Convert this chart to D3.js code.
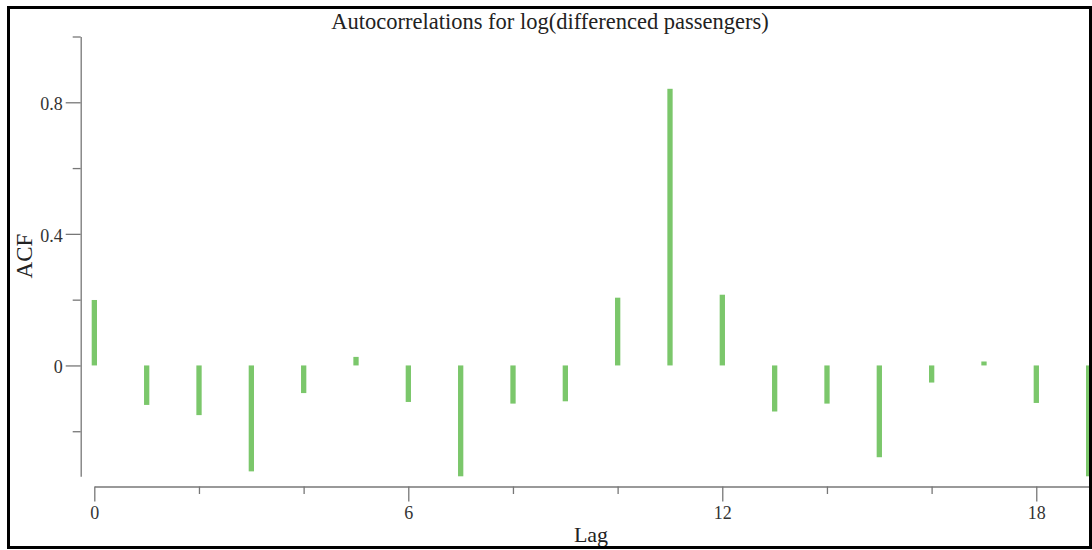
<!DOCTYPE html>
<html>
<head>
<meta charset="utf-8">
<script src="https://cdn.jsdelivr.net/npm/d3@7"></script>
<style>
    body { margin: 0; background: #fff; }
    svg { display: block; font-family: "Liberation Serif", "Times New Roman", serif; }
    .axis path, .axis line { stroke: #777; stroke-width: 1.3; }
    .axis text { fill: #333; font-size: 18px; font-family: "Liberation Serif", serif; }
</style>
</head>
<body>
<div id="chart"></div>
<script>
const lags = [0, 1, 2, 3, 4, 5, 6, 7, 8, 9, 10, 11, 12, 13, 14, 15, 16, 17, 18, 19];
const acf = [0.199, -0.120, -0.151, -0.322, -0.084, 0.026, -0.111, -0.337, -0.116, -0.109,
             0.206, 0.841, 0.215, -0.140, -0.116, -0.279, -0.052, 0.012, -0.114, -0.337];
const xTicks = [0, 2, 4, 6, 8, 10, 12, 14, 16, 18];
const xLabels = [0, 6, 12, 18];
const yTicks = [-0.2, 0, 0.2, 0.4, 0.6, 0.8, 1.0];
const yLabels = [0, 0.4, 0.8];

const width = 1092, height = 550;

const svg = d3.select('#chart')
    .append('svg')
    .attr('width', width)
    .attr('height', height);

svg.append('rect')
    .attr('width', width)
    .attr('height', height)
    .attr('fill', '#fff');

const x = d3.scaleLinear()
    .domain([0, 19])
    .range([94.3, 1088.6]);

const y = d3.scaleLinear()
    .domain([d3.min(acf), 1])
    .range([476.3, 36.5]);

// y axis, offset to the left of the bars
const yAxis = svg.append('g')
    .attr('class', 'axis')
    .attr('transform', 'translate(80.7, 0)')
    .call(d3.axisLeft(y)
        .tickValues(yTicks)
        .tickSizeOuter(0)
        .tickFormat(d => yLabels.some(v => Math.abs(v - d) < 1e-9) ? d3.format('~g')(d) : ''));

yAxis.selectAll('.tick line')
    .attr('x2', d => yLabels.some(v => Math.abs(v - d) < 1e-9) ? -15 : -8);
yAxis.selectAll('.tick text')
    .attr('x', -18)
    .attr('dy', '0.4em');

// x axis, below the bars
const xAxis = svg.append('g')
    .attr('class', 'axis')
    .attr('transform', 'translate(0, 486.5)')
    .call(d3.axisBottom(x)
        .tickValues(xTicks)
        .tickSizeOuter(0)
        .tickFormat(d => xLabels.includes(d) ? d : ''));

xAxis.selectAll('.tick line')
    .attr('y2', d => xLabels.includes(d) ? 15 : 7.5);
xAxis.selectAll('.tick text')
    .attr('y', 20)
    .attr('dy', '0.71em');

// bars
svg.selectAll('.bar')
    .data(lags.map((lag, i) => ({ lag: lag, value: acf[i] })))
    .enter()
    .append('rect')
    .attr('class', 'bar')
    .attr('x', d => x(d.lag) - 2.6)
    .attr('width', 5.3)
    .attr('y', d => y(Math.max(d.value, 0)))
    .attr('height', d => Math.abs(y(d.value) - y(0)))
    .attr('fill', '#7bc76b');

// title and axis labels
svg.append('text')
    .attr('x', 550)
    .attr('y', 29)
    .attr('text-anchor', 'middle')
    .style('font-size', '22.5px')
    .style('fill', '#222')
    .text('Autocorrelations for log(differenced passengers)');

svg.append('text')
    .attr('transform', 'rotate(-90)')
    .attr('x', -256)
    .attr('y', 32)
    .attr('text-anchor', 'middle')
    .style('font-size', '23px')
    .style('fill', '#222')
    .text('ACF');

svg.append('text')
    .attr('x', 591)
    .attr('y', 542)
    .attr('text-anchor', 'middle')
    .style('font-size', '22px')
    .style('fill', '#222')
    .text('Lag');

// frame
svg.append('rect')
    .attr('x', 8.5)
    .attr('y', 7.5)
    .attr('width', 1082)
    .attr('height', 540)
    .attr('fill', 'none')
    .attr('stroke', '#000')
    .attr('stroke-width', 3);
</script>
</body>
</html>
